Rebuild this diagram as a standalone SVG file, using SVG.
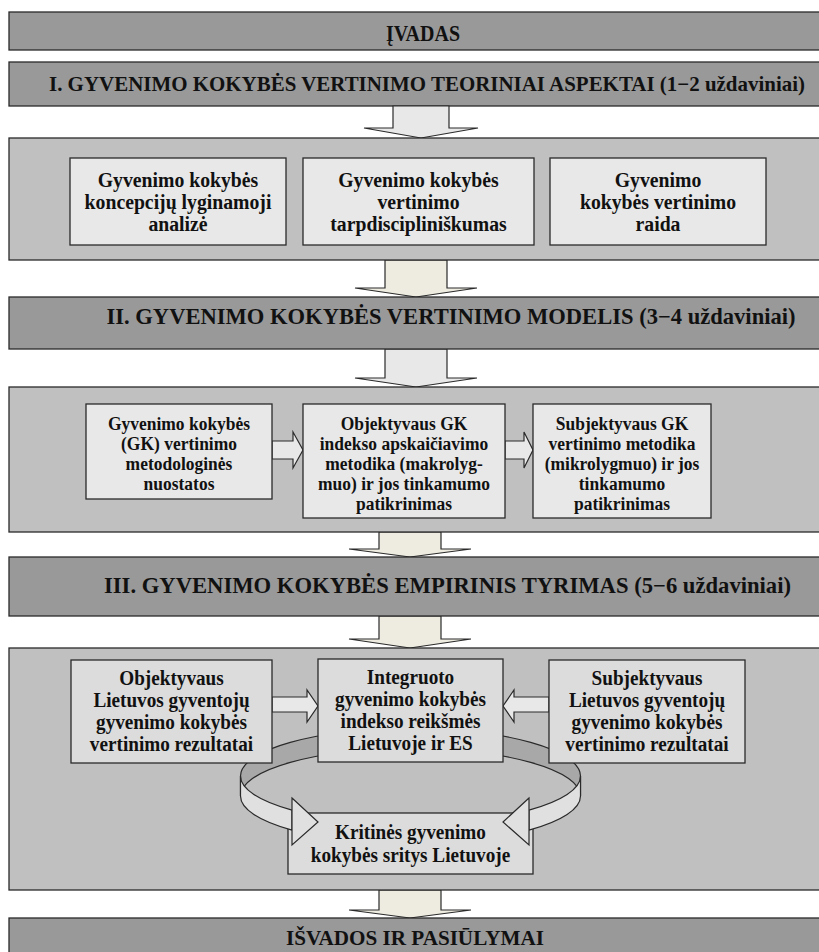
<svg xmlns="http://www.w3.org/2000/svg" width="819" height="952" viewBox="0 0 819 952">
<style>
.bar{fill:#999999;stroke:#2a2a2a;stroke-width:1.3}
.cont{fill:#c0c0c0;stroke:#2a2a2a;stroke-width:1.3}
.box{fill:#e8e8e8;stroke:#2a2a2a;stroke-width:1.3}
.box3{fill:#dcdcdc;stroke:#2a2a2a;stroke-width:1.3}
.arrG{fill:#e8e8e8;stroke:#2a2a2a;stroke-width:1.2}
.arrB{fill:#eeece1;stroke:#2a2a2a;stroke-width:1.2}
.back{fill:#a8a8a8;stroke:#2a2a2a;stroke-width:1.2}
.front{fill:#e0e0e0;stroke:#2a2a2a;stroke-width:1.2}
text{font-family:"Liberation Serif","Times New Roman",serif;font-weight:bold;fill:#111;text-anchor:middle}
.t0{font-size:24px}
.t1{font-size:21px}
.t2{font-size:22.5px}
.b1{font-size:21px}
.b2{font-size:19px}
.b3{font-size:20px}
</style>
<rect x="0" y="0" width="819" height="952" fill="#ffffff"/>

<g id="ivadas"><rect class="bar" x="9" y="12" width="840" height="38"/><text class="t0" x="423" y="41" textLength="74" lengthAdjust="spacingAndGlyphs">ĮVADAS</text></g>
<g id="sec1"><rect class="bar" x="9" y="62" width="840" height="44"/><text class="t1" x="427" y="91" textLength="756" lengthAdjust="spacingAndGlyphs">I. GYVENIMO KOKYBĖS VERTINIMO TEORINIAI ASPEKTAI (1−2 uždaviniai)</text></g>

<g id="connectors">
<polygon class="arrG" points="393,106 449,106 449,128 478,128 421,138 364,128 393,128"/>
<polygon class="arrB" points="385,260 447,260 447,288 477,288 416,297 355,288 385,288"/>
<polygon class="arrG" points="385,349 447,349 447,378 477,378 416,387 355,378 385,378"/>
<polygon class="arrB" points="379,532 441,532 441,549 471,549 410,557 349,549 379,549"/>
<polygon class="arrB" points="379,616 441,616 441,639 471,639 410,648 349,639 379,639"/>
<polygon class="arrB" points="379,890 441,890 441,910 471,910 410,918 349,910 379,910"/>
</g>

<g id="cont1">
<rect class="cont" x="9" y="138" width="840" height="122"/>
</g>
<g id="c1a"><rect class="box" x="70" y="158" width="216" height="87"/>
<text class="b1" transform="translate(178,187) scale(0.94,1)">Gyvenimo kokybės</text><text class="b1" transform="translate(178,209) scale(0.94,1)">koncepcijų lyginamoji</text><text class="b1" transform="translate(178,231) scale(0.94,1)">analizė</text></g>
<g id="c1b"><rect class="box" x="303" y="158" width="231" height="87"/>
<text class="b1" transform="translate(418.5,187) scale(0.94,1)">Gyvenimo kokybės</text><text class="b1" transform="translate(418.5,209) scale(0.94,1)">vertinimo</text><text class="b1" transform="translate(418.5,231) scale(0.94,1)">tarpdiscipliniškumas</text></g>
<g id="c1c"><rect class="box" x="550" y="158" width="216" height="87"/>
<text class="b1" transform="translate(658,187) scale(0.94,1)">Gyvenimo</text><text class="b1" transform="translate(658,209) scale(0.94,1)">kokybės vertinimo</text><text class="b1" transform="translate(658,231) scale(0.94,1)">raida</text></g>

<g id="sec2"><rect class="bar" x="9" y="297" width="840" height="52"/><text class="t2" x="451" y="324" textLength="689" lengthAdjust="spacingAndGlyphs">II. GYVENIMO KOKYBĖS VERTINIMO MODELIS (3−4 uždaviniai)</text></g>

<g id="cont2"><rect class="cont" x="9" y="387" width="840" height="145"/></g>
<g id="c2arrows">
<polygon class="arrG" points="272,441 293,441 293,432 303,450 293,468 293,459 272,459"/>
<polygon class="arrG" points="505,441 524,441 524,432 533,450 524,468 524,459 505,459"/>
</g>
<g id="c2a"><rect class="box" x="86" y="404" width="186" height="95"/>
<text class="b2" transform="translate(179,430) scale(0.92,1)">Gyvenimo kokybės</text><text class="b2" transform="translate(179,450) scale(0.92,1)">(GK) vertinimo</text><text class="b2" transform="translate(179,470) scale(0.92,1)">metodologinės</text><text class="b2" transform="translate(179,490) scale(0.92,1)">nuostatos</text></g>
<g id="c2b"><rect class="box" x="303" y="404" width="202" height="114"/>
<text class="b2" transform="translate(404,430) scale(0.92,1)">Objektyvaus GK</text><text class="b2" transform="translate(404,450) scale(0.92,1)">indekso apskaičiavimo</text><text class="b2" transform="translate(404,470) scale(0.92,1)">metodika (makrolyg-</text><text class="b2" transform="translate(404,490) scale(0.92,1)">muo) ir jos tinkamumo</text><text class="b2" transform="translate(404,510) scale(0.92,1)">patikrinimas</text></g>
<g id="c2c"><rect class="box" x="533" y="404" width="178" height="114"/>
<text class="b2" transform="translate(622,430) scale(0.92,1)">Subjektyvaus GK</text><text class="b2" transform="translate(622,450) scale(0.92,1)">vertinimo metodika</text><text class="b2" transform="translate(622,470) scale(0.92,1)">(mikrolygmuo) ir jos</text><text class="b2" transform="translate(622,490) scale(0.92,1)">tinkamumo</text><text class="b2" transform="translate(622,510) scale(0.92,1)">patikrinimas</text></g>

<g id="sec3"><rect class="bar" x="9" y="557" width="840" height="59"/><text class="t2" x="447.5" y="593" textLength="687" lengthAdjust="spacingAndGlyphs">III. GYVENIMO KOKYBĖS EMPIRINIS TYRIMAS (5−6 uždaviniai)</text></g>

<g id="cont3"><rect class="cont" x="9" y="648" width="840" height="242"/></g>
<g id="ring-back"><path class="back" d="M240.5,776 A170,47.5 0 0 1 580.5,776 L580.5,796 A170,47.5 0 0 0 240.5,796 Z"/></g>
<g id="c3arrows">
<polygon class="arrG" points="272,697 307,697 307,690 318,706 307,722 307,712 272,712"/>
<polygon class="arrG" points="549,697 514,697 514,690 503,706 514,722 514,712 549,712"/>
</g>
<g id="c3l"><rect class="box3" x="71" y="660" width="201" height="103"/>
<text class="b3" transform="translate(171.5,685) scale(0.96,1)">Objektyvaus</text><text class="b3" transform="translate(171.5,707) scale(0.96,1)">Lietuvos gyventojų</text><text class="b3" transform="translate(171.5,729) scale(0.96,1)">gyvenimo kokybės</text><text class="b3" transform="translate(171.5,751) scale(0.96,1)">vertinimo rezultatai</text></g>
<g id="c3c"><rect class="box3" x="318" y="659" width="185" height="103"/>
<text class="b3" transform="translate(410.5,684) scale(0.96,1)">Integruoto</text><text class="b3" transform="translate(410.5,706) scale(0.96,1)">gyvenimo kokybės</text><text class="b3" transform="translate(410.5,728) scale(0.96,1)">indekso reikšmės</text><text class="b3" transform="translate(410.5,750) scale(0.96,1)">Lietuvoje ir ES</text></g>
<g id="c3r"><rect class="box3" x="549" y="660" width="196" height="103"/>
<text class="b3" transform="translate(647,685) scale(0.96,1)">Subjektyvaus</text><text class="b3" transform="translate(647,707) scale(0.96,1)">Lietuvos gyventojų</text><text class="b3" transform="translate(647,729) scale(0.96,1)">gyvenimo kokybės</text><text class="b3" transform="translate(647,751) scale(0.96,1)">vertinimo rezultatai</text></g>
<g id="c3k"><rect class="box3" x="288" y="813" width="245" height="61"/>
<text class="b3" transform="translate(410.5,839) scale(0.96,1)">Kritinės gyvenimo</text><text class="b3" transform="translate(410.5,862) scale(0.96,1)">kokybės sritys Lietuvoje</text></g>
<g id="ring-front">
<path class="front" d="M240.5,776 A170,47.5 0 0 0 292,810.1 L292,830.1 A170,47.5 0 0 1 240.5,796 Z"/>
<polygon class="front" points="292,798 318,822 292,845"/>
<path class="front" d="M580.5,776 A170,47.5 0 0 1 529,810.1 L529,830.1 A170,47.5 0 0 0 580.5,796 Z"/>
<polygon class="front" points="529,798 503,822 529,845"/>
</g>

<g id="sec4"><rect class="bar" x="9" y="918" width="840" height="50"/><text class="t1" x="415" y="945" textLength="258" lengthAdjust="spacingAndGlyphs">IŠVADOS IR PASIŪLYMAI</text></g>
</svg>
